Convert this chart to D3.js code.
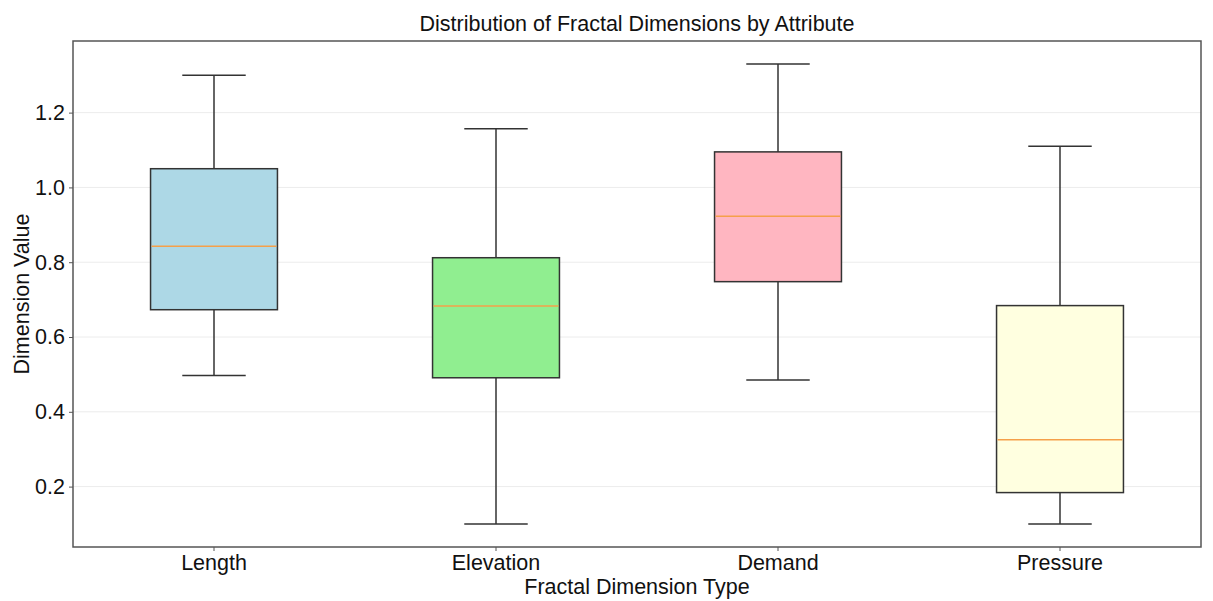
<!DOCTYPE html>
<html>
<head>
<meta charset="utf-8">
<script src="https://cdn.jsdelivr.net/npm/d3@7"></script>
<style>
  body { margin: 0; background: #fff; }
  text { font-family: "Liberation Sans", Arial, sans-serif; fill: #111; }
</style>
</head>
<body>
<div id="chart"></div>
<script>
// values
const categories = ['Length', 'Elevation', 'Demand', 'Pressure'];
const whiskerLow = [0.497, 0.10, 0.485, 0.10];
const q1 = [0.673, 0.491, 0.748, 0.184];
const medians = [0.843, 0.683, 0.923, 0.325];
const q3 = [1.050, 0.812, 1.095, 0.684];
const whiskerHigh = [1.300, 1.157, 1.330, 1.110];
const colors = ['#add8e6', '#90ee90', '#ffb6c1', '#ffffe0'];
const yTicks = [0.2, 0.4, 0.6, 0.8, 1.0, 1.2];

const boxes = categories.map((c, i) => ({
  name: c, lo: whiskerLow[i], q1: q1[i], med: medians[i], q3: q3[i], hi: whiskerHigh[i], color: colors[i]
}));

const W = 1213, H = 601;
const margin = { top: 41, right: 12, bottom: 54, left: 73 };
const width = W - margin.left - margin.right;
const height = H - margin.top - margin.bottom;
const fontSize = '21.5px';

const x = d3.scaleBand().domain(categories).range([0, width]).paddingInner(0).paddingOuter(0);
const lo = d3.min(whiskerLow), hi = d3.max(whiskerHigh), pad = (hi - lo) * 0.05;
const y = d3.scaleLinear().domain([lo - pad, hi + pad]).range([height, 0]);

const svg = d3.select('#chart').append('svg')
    .attr('width', W)
    .attr('height', H);

const g = svg.append('g')
    .attr('transform', 'translate(' + margin.left + ',' + margin.top + ')');

// grid
g.append('g')
  .selectAll('line')
  .data(yTicks)
  .enter().append('line')
    .attr('x1', 0).attr('x2', width)
    .attr('y1', d => y(d)).attr('y2', d => y(d))
    .attr('stroke', '#ececec')
    .attr('stroke-width', 1);

const boxW = x.bandwidth() * 0.45;
const capW = boxW / 2;

const bx = g.selectAll('.box')
  .data(boxes)
  .enter().append('g')
    .attr('class', 'box')
    .attr('transform', d => 'translate(' + (x(d.name) + x.bandwidth() / 2) + ',0)');

// whiskers
bx.append('line')
    .attr('x1', 0).attr('x2', 0)
    .attr('y1', d => y(d.lo)).attr('y2', d => y(d.q1))
    .attr('stroke', '#333').attr('stroke-width', 1.5);
bx.append('line')
    .attr('x1', 0).attr('x2', 0)
    .attr('y1', d => y(d.q3)).attr('y2', d => y(d.hi))
    .attr('stroke', '#333').attr('stroke-width', 1.5);
// caps
bx.append('line')
    .attr('x1', -capW / 2).attr('x2', capW / 2)
    .attr('y1', d => y(d.lo)).attr('y2', d => y(d.lo))
    .attr('stroke', '#333').attr('stroke-width', 1.5);
bx.append('line')
    .attr('x1', -capW / 2).attr('x2', capW / 2)
    .attr('y1', d => y(d.hi)).attr('y2', d => y(d.hi))
    .attr('stroke', '#333').attr('stroke-width', 1.5);
// box
bx.append('rect')
    .attr('x', -boxW / 2)
    .attr('width', boxW)
    .attr('y', d => y(d.q3))
    .attr('height', d => y(d.q1) - y(d.q3))
    .attr('fill', d => d.color)
    .attr('stroke', '#333')
    .attr('stroke-width', 1.5);
// median
bx.append('line')
    .attr('x1', -boxW / 2 + 1).attr('x2', boxW / 2 - 1)
    .attr('y1', d => y(d.med)).attr('y2', d => y(d.med))
    .attr('stroke', '#f5a04a').attr('stroke-width', 1.5);

// axes
const yAxis = g.append('g')
    .call(d3.axisLeft(y).tickValues(yTicks).tickFormat(d3.format('.1f')).tickSize(4).tickPadding(4));
yAxis.selectAll('text').style('font-size', fontSize);
yAxis.selectAll('line').attr('stroke', '#555');
yAxis.select('.domain').remove();

const xAxis = g.append('g')
    .attr('transform', 'translate(0,' + height + ')')
    .call(d3.axisBottom(x).tickSize(4).tickPadding(4));
xAxis.selectAll('text').style('font-size', fontSize);
xAxis.selectAll('line').attr('stroke', '#555');
xAxis.select('.domain').remove();

// frame
g.append('rect')
    .attr('width', width)
    .attr('height', height)
    .attr('fill', 'none')
    .attr('stroke', '#555')
    .attr('stroke-width', 1.5);

// title and labels
svg.append('text')
    .attr('x', margin.left + width / 2)
    .attr('y', 31)
    .style('text-anchor', 'middle')
    .style('font-size', fontSize)
    .text('Distribution of Fractal Dimensions by Attribute');

svg.append('text')
    .attr('x', margin.left + width / 2)
    .attr('y', 594)
    .style('text-anchor', 'middle')
    .style('font-size', fontSize)
    .text('Fractal Dimension Type');

svg.append('text')
    .attr('transform', 'rotate(-90)')
    .attr('x', -(margin.top + height / 2))
    .attr('y', 29)
    .style('text-anchor', 'middle')
    .style('font-size', fontSize)
    .text('Dimension Value');
</script>
</body>
</html>
